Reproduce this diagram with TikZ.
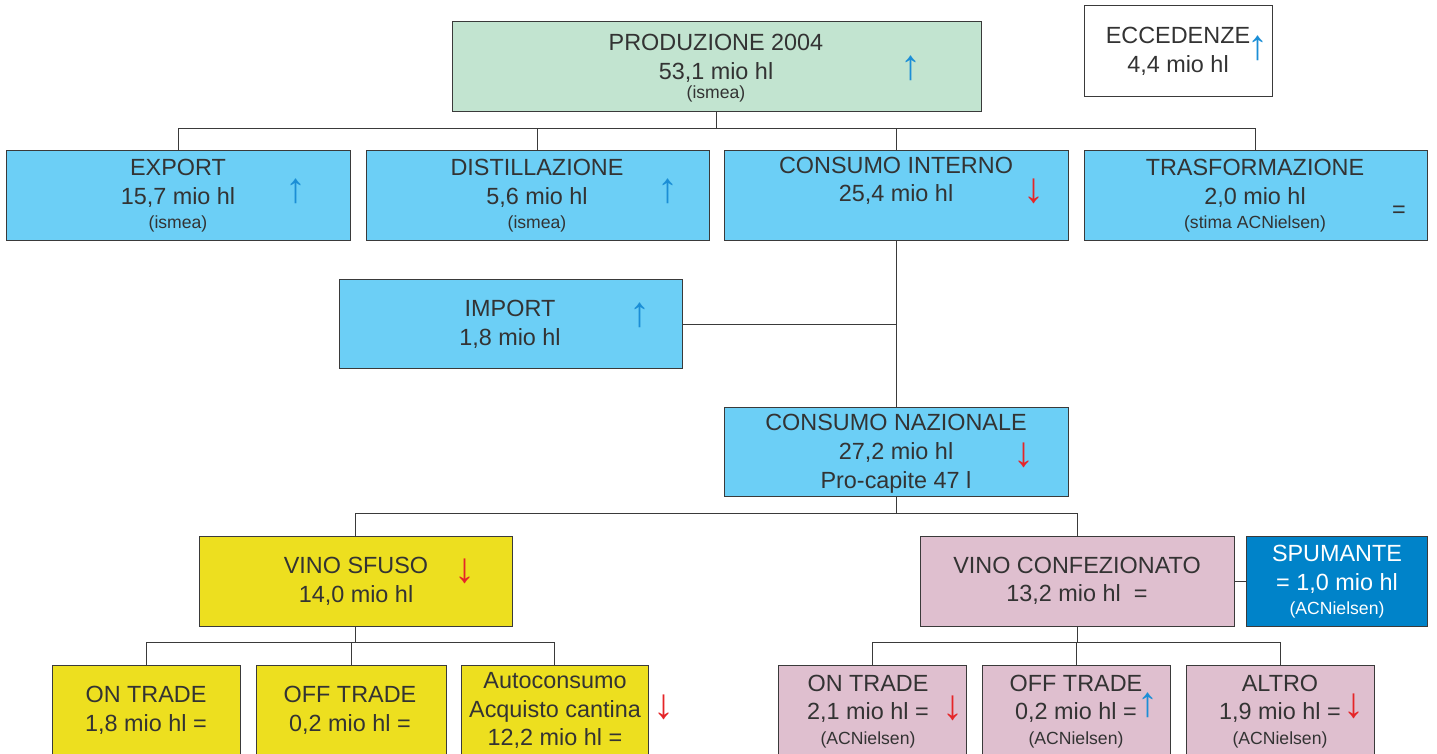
\documentclass[tikz,border=0pt]{standalone}
\usepackage{fontspec}
\setmainfont{Liberation Sans}
\definecolor{mint}{HTML}{C2E4D0}
\definecolor{lblue}{HTML}{6CCFF6}
\definecolor{yel}{HTML}{EDDF1F}
\definecolor{pnk}{HTML}{DFBFCF}
\definecolor{spu}{HTML}{0083C9}
\definecolor{upc}{HTML}{1B8ED6}
\definecolor{dnc}{HTML}{E52528}
\definecolor{txtc}{HTML}{333333}
\definecolor{brd}{HTML}{3A3A3A}
\tikzset{
  box/.style={draw=brd, line width=0.5pt, inner sep=0pt, rectangle},
  big/.style={anchor=base, inner sep=0pt, text=txtc, font=\fontsize{11.7}{14}\selectfont},
  sml/.style={anchor=base, inner sep=0pt, text=txtc, font=\fontsize{8.8}{10}\selectfont},
  upar/.style={inner sep=0pt, text=upc, font=\fontsize{21}{22}\selectfont},
  dnar/.style={inner sep=0pt, text=dnc, font=\fontsize{21}{22}\selectfont},
  conn/.style={draw=brd, line width=0.5pt},
}
\begin{document}
\begin{tikzpicture}[x=0.5pt, y=-0.5pt]
\useasboundingbox (0,0) rectangle (1437,754);
\clip (0,0) rectangle (1437,754);
% boxes (width/height in pt = px/2)
\newcommand{\bx}[6]{\node[box, fill=#2, minimum width=#5*0.5pt, minimum height=#6*0.5pt] (#1) at (#3,#4) {};}
\bx{prod}{mint}{716.5}{67}{529}{90}
\bx{ecc}{white}{1178}{51.5}{188}{91}
\bx{exp}{lblue}{178}{196}{344}{90}
\bx{dist}{lblue}{537.5}{196}{343}{90}
\bx{cint}{lblue}{896}{196}{344}{90}
\bx{trasf}{lblue}{1255.5}{196}{343}{90}
\bx{imp}{lblue}{510.5}{324.5}{343}{89}
\bx{cnaz}{lblue}{896}{452.5}{344}{89}
\bx{sfuso}{yel}{355.5}{581.5}{313}{89}
\bx{conf}{pnk}{1077}{581.5}{314}{89}
\bx{spum}{spu}{1336.5}{581.5}{181}{89}
\bx{onY}{yel}{146}{725}{188}{120}
\bx{offY}{yel}{351}{725}{190}{120}
\bx{auto}{yel}{554.5}{725}{187}{120}
\bx{onP}{pnk}{872}{725}{188}{120}
\bx{offP}{pnk}{1076}{725}{188}{120}
\bx{altro}{pnk}{1280}{725}{188}{120}
% connectors
\draw[conn] (prod.south) -- ++(0,16) coordinate (j1);
\draw[conn] (j1) -| (exp.north);
\draw[conn] (j1) -| (dist.north);
\draw[conn] (j1) -| (cint.north);
\draw[conn] (j1) -| (trasf.north);
\draw[conn] (cint.south) -- (cnaz.north);
\draw[conn] (imp.east) -- (imp.east -| cint.south);
\draw[conn] (cnaz.south) -- ++(0,16) coordinate (j2);
\draw[conn] (j2) -| (sfuso.north);
\draw[conn] (j2) -| (conf.north);
\draw[conn] (conf.east) -- (spum.west);
\draw[conn] (sfuso.south) -- ++(0,16) coordinate (j3);
\draw[conn] (j3) -| (onY.north);
\draw[conn] (j3) -| (offY.north);
\draw[conn] (j3) -| (auto.north);
\draw[conn] (conf.south) -- ++(0,16) coordinate (j4);
\draw[conn] (j4) -| (onP.north);
\draw[conn] (j4) -| (offP.north);
\draw[conn] (j4) -| (altro.north);
% texts
\node[big] (t1) at (716,51) {PRODUZIONE 2004};
\node[big] (t2) at (716,80) {53,1 mio hl};
\node[sml] (t3) at (716,99) {(ismea)};
\node[upar] (a1) at (911,68) {↑};
\node[big] (t4) at (1178,44) {ECCEDENZE};
\node[big] (t5) at (1178,73) {4,4 mio hl};
\node[upar] (a2) at (1258,48) {↑};
\node[big] (t6) at (178,176) {EXPORT};
\node[big] (t7) at (178,205) {15,7 mio hl};
\node[sml] (t8) at (178,229) {(ismea)};
\node[upar] (a3) at (296,191) {↑};
\node[big] (t9) at (537,176) {DISTILLAZIONE};
\node[big] (t10) at (537,205) {5,6 mio hl};
\node[sml] (t11) at (537,229) {(ismea)};
\node[upar] (a4) at (668,191) {↑};
\node[big] (t12) at (896,174) {CONSUMO INTERNO};
\node[big] (t13) at (896,202) {25,4 mio hl};
\node[dnar] (a5) at (1034,191) {↓};
\node[big] (t14) at (1255,176) {TRASFORMAZIONE};
\node[big] (t15) at (1255,205) {2,0 mio hl};
\node[sml] (t16) at (1255,229) {(stima ACNielsen)};
\node[big] (t17) at (1399,218) {=};
\node[big] (t18) at (510,317) {IMPORT};
\node[big] (t19) at (510,346) {1,8 mio hl};
\node[upar] (a6) at (640,315) {↑};
\node[big] (t20) at (896,431) {CONSUMO NAZIONALE};
\node[big] (t21) at (896,460) {27,2 mio hl};
\node[big] (t22) at (896,488) {Pro-capite 47 l};
\node[dnar] (a7) at (1024,455) {↓};
\node[big] (t23) at (356,574) {VINO SFUSO};
\node[big] (t24) at (356,603) {14,0 mio hl};
\node[dnar] (a8) at (465,571) {↓};
\node[big] (t25) at (1077,574) {VINO CONFEZIONATO};
\node[big] (t26) at (1077,602) {13,2 mio hl\ \ =};
\node[big, text=white] (t27) at (1337,561) {SPUMANTE};
\node[big, text=white] (t28) at (1337,590) {= 1,0 mio hl};
\node[sml, text=white] (t29) at (1337,615) {(ACNielsen)};
\node[big] (t30) at (146,702) {ON TRADE};
\node[big] (t31) at (146,731) {1,8 mio hl =};
\node[big] (t32) at (350,702) {OFF TRADE};
\node[big] (t33) at (350,731) {0,2 mio hl =};
\node[big] (t34) at (555,689) {Autoconsumo};
\node[big] (t35) at (555,717) {Acquisto cantina};
\node[big] (t36) at (555,745) {12,2 mio hl =};
\node[dnar] (a9) at (664,707) {↓};
\node[big] (t37) at (868,691) {ON TRADE};
\node[big] (t38) at (868,719) {2,1 mio hl =};
\node[sml] (t39) at (868,744) {(ACNielsen)};
\node[dnar] (a10) at (953,708) {↓};
\node[big] (t40) at (1076,691) {OFF TRADE};
\node[big] (t41) at (1076,719) {0,2 mio hl =};
\node[sml] (t42) at (1076,744) {(ACNielsen)};
\node[upar] (a11) at (1148,705) {↑};
\node[big] (t43) at (1280,691) {ALTRO};
\node[big] (t44) at (1280,719) {1,9 mio hl =};
\node[sml] (t45) at (1280,744) {(ACNielsen)};
\node[dnar] (a12) at (1354,706) {↓};
\end{tikzpicture}
\end{document}
